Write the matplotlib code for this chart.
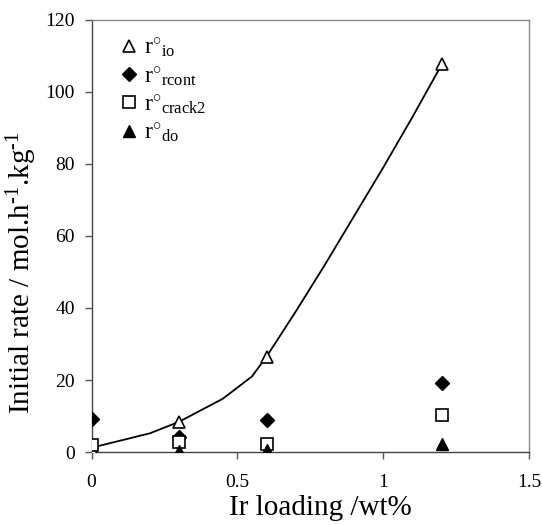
import matplotlib
matplotlib.use("Agg")
import matplotlib.pyplot as plt
import numpy as np

plt.rcParams["font.family"] = ["Liberation Serif", "DejaVu Serif"]
plt.rcParams["mathtext.fontset"] = "custom"
plt.rcParams["mathtext.rm"] = "Liberation Serif"
plt.rcParams["mathtext.it"] = "Liberation Serif:italic"

ir_loading = [0.0, 0.3, 0.6, 1.2]
r_io = [0.7, 8.2, 26.5, 107.8]
r_rcont = [9.2, 4.1, 8.9, 19.2]
r_crack2 = [1.9, 2.8, 2.2, 10.2]
do_loading = [0.3, 0.6, 1.2]
r_do = [0.3, 0.5, 2.3]

# fitted curve through r_io
curve_x = [0.0, 0.2, 0.3, 0.45, 0.55, 0.6, 0.7, 0.8, 0.9, 1.0, 1.1, 1.2]
curve_y = [1.2, 5.2, 8.4, 14.8, 21.0, 26.5, 39.0, 52.0, 65.5, 79.0, 93.0, 107.5]

fig = plt.figure(figsize=(5.42, 5.25), dpi=100)
ax = fig.add_axes([0.169, 0.139, 0.807, 0.823])

ax.plot(curve_x, curve_y, color="black", linewidth=1.3, zorder=2)
ax.plot(ir_loading, r_io, linestyle="none", marker="^", markersize=9,
        markerfacecolor="white", markeredgecolor="black", markeredgewidth=1.2,
        label=r"r$^{\circ}$$_{\mathrm{io}}$", zorder=3)
ax.plot(ir_loading, r_rcont, linestyle="none", marker="D", markersize=7,
        color="black", label=r"r$^{\circ}$$_{\mathrm{rcont}}$", zorder=3)
ax.plot(ir_loading, r_crack2, linestyle="none", marker="s", markersize=9,
        markerfacecolor="white", markeredgecolor="black", markeredgewidth=1.2,
        label=r"r$^{\circ}$$_{\mathrm{crack2}}$", zorder=3)
ax.plot(do_loading, r_do, linestyle="none", marker="^", markersize=9,
        color="black", label=r"r$^{\circ}$$_{\mathrm{do}}$", zorder=3)

ax.set_xlim(0, 1.5)
ax.set_ylim(0, 120)
ax.set_xticks([0, 0.5, 1, 1.5])
ax.set_xticklabels(["0", "0.5", "1", "1.5"])
ax.set_yticks(np.arange(0, 121, 20))
ax.tick_params(axis="both", labelsize=14, direction="out", length=5, width=1,
               color="#555555")
ax.tick_params(axis="x", pad=11)
ax.tick_params(axis="y", pad=7)

for side in ["top", "right"]:
    ax.spines[side].set_color("#888888")
    ax.spines[side].set_linewidth(1)
for side in ["left", "bottom"]:
    ax.spines[side].set_color("#444444")
    ax.spines[side].set_linewidth(1)

ax.set_xlabel("Ir loading /wt%", fontsize=21)
ax.set_ylabel(r"Initial rate / mol.h$^{\text{-1}}$.kg$^{\text{-1}}$", fontsize=21)
ax.xaxis.set_label_coords(0.522, -0.1)
ax.yaxis.set_label_coords(-0.12, 0.414)

ax.legend(loc="upper left", frameon=False, fontsize=17, handletextpad=0.15,
          labelspacing=0.2, borderaxespad=0.3, handlelength=1.0,
          bbox_to_anchor=(0.02, 1.0))

fig.savefig("out.png", dpi=100)
